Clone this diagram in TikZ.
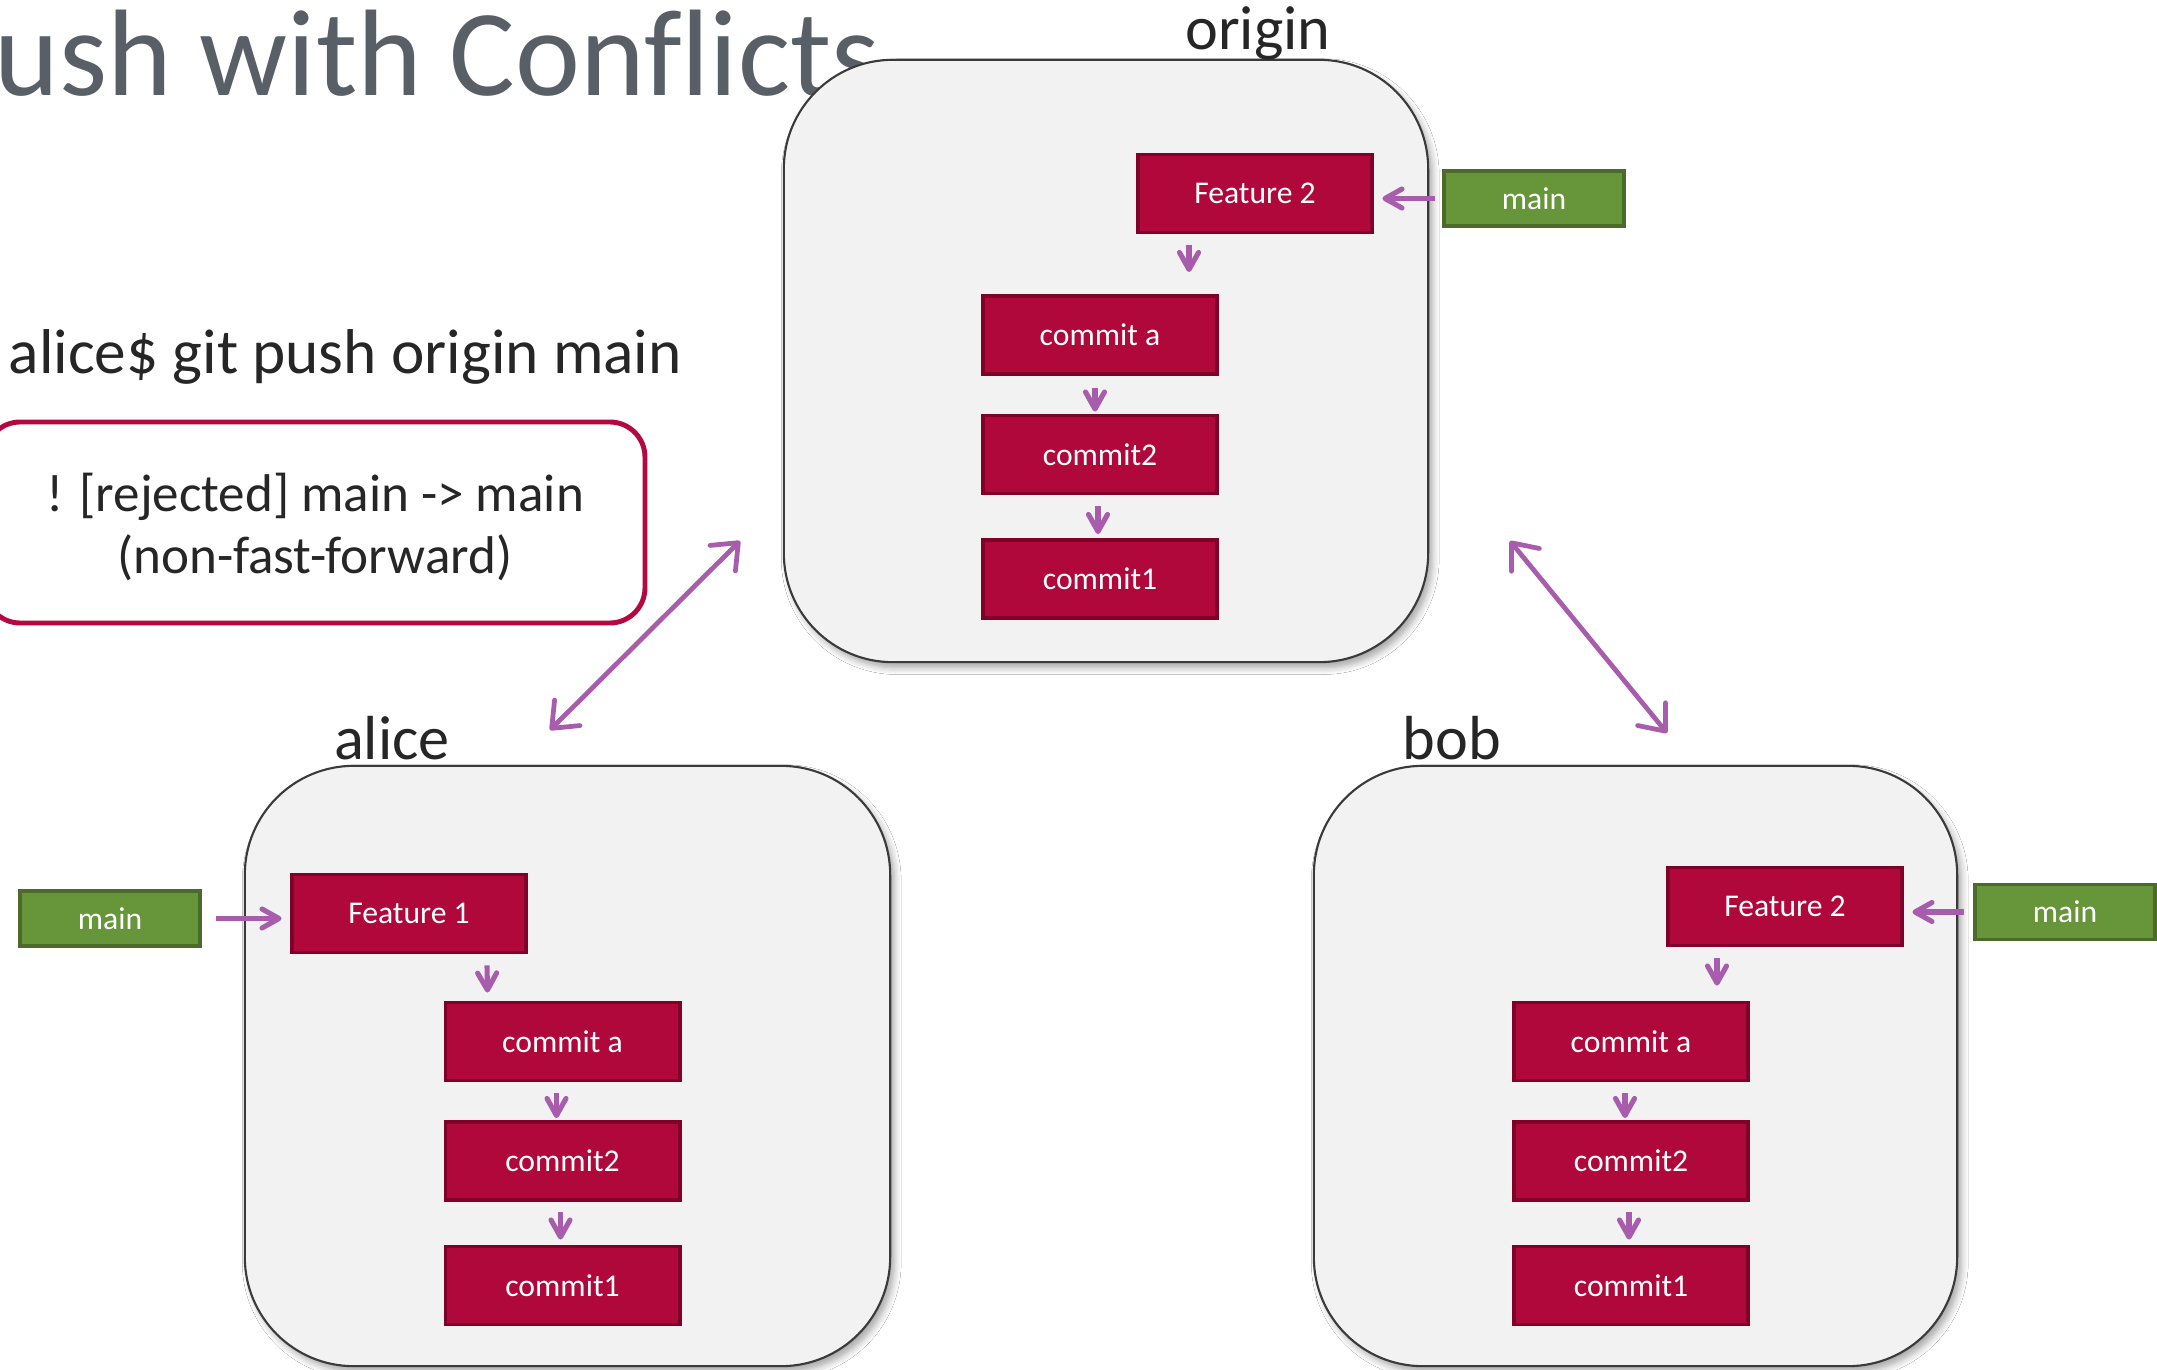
\documentclass[tikz,border=0pt]{standalone}
\usepackage{fontspec}
\setmainfont{Carlito}[Ligatures=NoCommon]
\usetikzlibrary{arrows.meta,calc,shadows.blur}

\definecolor{commitfill}{HTML}{B0083A}
\definecolor{commitline}{HTML}{80002A}
\definecolor{branchfill}{HTML}{67953A}
\definecolor{branchline}{HTML}{4C6B2A}
\definecolor{linkcol}{HTML}{A85CAC}
\definecolor{repofill}{HTML}{F2F2F2}
\definecolor{repoline}{HTML}{3A3A3A}
\definecolor{titlecol}{HTML}{595F66}
\definecolor{textcol}{HTML}{262626}
\definecolor{alertcol}{HTML}{B5083E}

\begin{document}
\begin{tikzpicture}[x=0.01cm,y=-0.01cm,
  repo/.style={draw=repoline, line width=0.6pt, fill=repofill,
    rounded corners=31pt, minimum width=#1, inner sep=0pt,
    blur shadow={shadow xshift=1.2pt, shadow yshift=-1.6pt, shadow blur steps=6, shadow opacity=35}},
  commitbox/.style={draw=commitline, fill=commitfill, line width=1.1pt,
    minimum width=2.34cm, minimum height=0.78cm, inner sep=0pt,
    text=white, font=\fontsize{9}{10}\selectfont},
  branchbox/.style={draw=branchline, fill=branchfill, line width=1.1pt,
    minimum width=1.80cm, minimum height=0.55cm, inner sep=0pt,
    text=white, font=\fontsize{9}{10}\selectfont},
  repolabel/.style={anchor=base, text=textcol, font=\fontsize{17.7}{20}\selectfont, inner sep=0pt},
  link/.style={draw=linkcol, line width=1.45pt,
    -{Straight Barb[length=1.7mm,width=1.9mm,round]}},
  sync/.style={draw=linkcol, line width=1.35pt,
    {Straight Barb[length=2.2mm,width=3.6mm,round]}-{Straight Barb[length=2.2mm,width=3.6mm,round]}}
]
\clip (0,0) rectangle (2157,1370);
\fill[white] (0,0) rectangle (2157,1370);

% title, partly outside the frame on the left
\node[anchor=base west, inner sep=0pt, text=titlecol, font=\fontsize{35}{40}\selectfont]
  (title) at (-6,96) {\llap{P}ush with Conflicts};

% command and its response
\node[anchor=base west, inner sep=0pt, text=textcol, font=\fontsize{18}{20}\selectfont]
  (cmd) at (8,374) {alice\$ git push origin main};
\draw[draw=alertcol, line width=1.4pt, fill=white, rounded corners=10pt]
  (-15,422) rectangle (645,623);
\node[text=textcol, align=center, font=\fontsize{15.1}{17.9}\selectfont, inner sep=0pt]
  (reject) at (315,527) {! [rejected] main -> main\\(non-fast-forward)};

% ---------------- origin ----------------
\node[repo=6.44cm, minimum height=6.02cm] (origin) at (1106,361) {};
\node[repolabel] (originlbl) at (1258,50) {origin};
\node[commitbox] (of2) at (1255,193.5) {Feature 2};
\node[branchbox] (omain) at (1534,198.5) {main};
\node[commitbox] (oca) at (1100,335) {commit a};
\node[commitbox] (oc2) at (1100,454.5) {commit2};
\node[commitbox] (oc1) at (1100,579) {commit1};

% ---------------- alice ----------------
\node[repo=6.45cm, minimum height=6.00cm] (alice) at (567.5,1066) {};
\node[repolabel] (alicelbl) at (392,759) {alice};
\node[branchbox] (amain) at (110,918.5) {main};
\node[commitbox] (af1) at (409,913.5) {Feature 1};
\node[commitbox] (aca) at (562.5,1041.5) {commit a};
\node[commitbox] (ac2) at (562.5,1161) {commit2};
\node[commitbox] (ac1) at (562.5,1285.5) {commit1};

% ---------------- bob ----------------
\node[repo=6.43cm, minimum height=6.00cm] (bob) at (1635.5,1066) {};
\node[repolabel] (boblbl) at (1452,759) {bob};
\node[branchbox] (bmain) at (2065,912) {main};
\node[commitbox] (bf2) at (1785,906.5) {Feature 2};
\node[commitbox] (bca) at (1631,1041.5) {commit a};
\node[commitbox] (bc2) at (1631,1161) {commit2};
\node[commitbox] (bc1) at (1631,1285.5) {commit1};

% branch pointers
\draw[link, shorten <=2pt, shorten >=2.4pt] (omain.west) -- (omain.west -| of2.east);
\draw[link, shorten <=4pt, shorten >=2.4pt] (amain.east) -- (amain.east -| af1.west);
\draw[link, shorten <=2.5pt, shorten >=2.4pt] (bmain.west) -- (bmain.west -| bf2.east);

% parent links, origin
\draw[link] ($(of2.south)+(-66,11)$) -- ($(oca.north)+(89,-22)$);
\draw[link] ($(oca.south)+(-5,12)$) -- ($(oc2.north)+(-5,-2)$);
\draw[link] ($(oc2.south)+(-2,11)$) -- ($(oc1.north)+(-2,-4)$);
% parent links, alice
\draw[link] ($(af1.south)+(78,11)$) -- ($(aca.north)+(-75,-8)$);
\draw[link] ($(aca.south)+(-6,11)$) -- ($(ac2.north)+(-6,-2)$);
\draw[link] ($(ac2.south)+(-2,10)$) -- ($(ac1.north)+(-2,-5)$);
% parent links, bob
\draw[link] ($(bf2.south)+(-68,11)$) -- ($(bca.north)+(86,-15)$);
\draw[link] ($(bca.south)+(-6,11)$) -- ($(bc2.north)+(-6,-2)$);
\draw[link] ($(bc2.south)+(-2,10)$) -- ($(bc1.north)+(-2,-5)$);

% synchronisation between repositories
\coordinate (async) at (550,730);
\coordinate (oasync) at (740,541);
\coordinate (obsync) at (1510,541);
\coordinate (bsync) at (1667,733);
\draw[sync] (async) -- (oasync);
\draw[sync] (obsync) -- (bsync);
\end{tikzpicture}
\end{document}
